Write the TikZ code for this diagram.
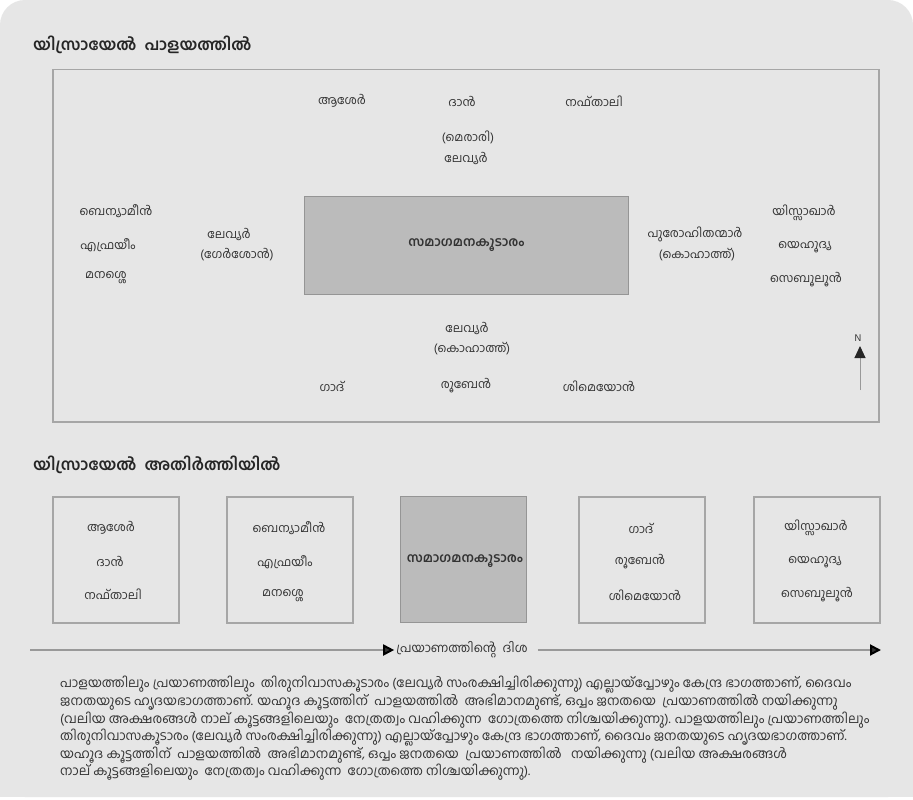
\documentclass[tikz,border=0pt]{standalone}
\usepackage{fontspec}
\newfontfamily\ml[Script=Malayalam]{Hind Kochi}
\usetikzlibrary{arrows.meta}
\definecolor{bg}{HTML}{E6E6E6}
\definecolor{edge}{HTML}{A6A6A6}
\definecolor{tab}{HTML}{BBBBBB}
\definecolor{ink}{HTML}{333333}
\definecolor{arr}{HTML}{999999}
\tikzset{
  lbl/.style={font=\ml\fontsize{12}{14}\selectfont, text=ink, inner sep=0pt, align=center},
  ttl/.style={font=\ml\bfseries\fontsize{16}{18}\selectfont, text=black!85, inner sep=0pt, anchor=west},
  para/.style={font=\ml\fontsize{13}{15}\selectfont, text=ink, inner sep=0pt, anchor=west},
  frame/.style={draw=edge, line width=1.5pt, fill=bg},
  tabbox/.style={draw=edge!90!black, line width=1pt, fill=tab, font=\ml\bfseries\fontsize{13}{15}\selectfont, text=ink},
  grpbox/.style={draw=edge, line width=1.5pt, fill=bg, minimum width=126pt, minimum height=126pt, inner sep=0pt},
  tip/.style={-{Triangle[length=11pt,width=11pt,fill=ink,color=black]}},
}
\begin{document}
\begin{tikzpicture}[x=1pt,y=-1pt]
\useasboundingbox (0,0) rectangle (913,800);
\fill[white] (0,0) rectangle (913,800);
\fill[bg, rounded corners=25pt] (0,797) -- (0,0) -- (913,0) -- (913,797) -- cycle;
\fill[bg] (0,700) rectangle (913,797);

% ---- camp ----
\node[ttl] (t1) at (33,45) {യിസ്രായേൽ~~പാളയത്തിൽ};
\node[frame, minimum width=826pt, minimum height=352pt, anchor=north west] (camp) at (52,69) {};
\node[tabbox, minimum width=324pt, minimum height=98pt, anchor=north west] (tab) at (304,196) {സമാഗമനകൂടാരം};

\node[lbl] (asher) at (342,101) {ആശേർ};
\node[lbl] (dan) at (462,101) {ദാൻ};
\node[lbl] (naph) at (594,101) {നഫ്താലി};
\node[lbl] (merari) at (468,137) {(മെരാരി)};
\node[lbl] (levn) at (466,158) {ലേവ്യർ};

\node[lbl] (benj) at (116,211) {ബെന്യാമീൻ};
\node[lbl] (ephr) at (108,245) {എഫ്രയീം};
\node[lbl] (mana) at (106,278) {മനശ്ശെ};
\node[lbl] (levw) at (229,234) {ലേവ്യർ};
\node[lbl] (gersh) at (237,255) {(ഗേർശോൻ)};

\node[lbl] (priest) at (695,234) {പുരോഹിതന്മാർ};
\node[lbl] (koh1) at (697,255) {(കൊഹാത്ത്)};
\node[lbl] (issa) at (804,213) {യിസ്സാഖാർ};
\node[lbl] (jud) at (805,247) {യെഹൂദ്യ};
\node[lbl] (zeb) at (806,280) {സെബൂലൂൻ};

\node[lbl] (levs) at (467,328) {ലേവ്യർ};
\node[lbl] (koh2) at (472,349) {(കൊഹാത്ത്)};
\node[lbl] (gad) at (332,386) {ഗാദ്};
\node[lbl] (reub) at (466,386) {രൂബേൻ};
\node[lbl] (sim) at (599,386) {ശിമെയോൻ};

\node[lbl, font=\ml\fontsize{10}{11}\selectfont] (north) at (858,338) {N};
\coordinate (nb) at (860,390);
\coordinate (nt) at (860,346);
\draw[arr, line width=1pt, -{Triangle[length=12pt,width=11pt,fill=black!85,color=black!85]}] (nb) -- (nt);

% ---- march ----
\node[ttl] (t2) at (33,465) {യിസ്രായേൽ~~അതിർത്തിയിൽ};
\node[grpbox, anchor=north west] (g1) at (52,496) {};
\node[grpbox, anchor=north west] (g2) at (226,496) {};
\node[grpbox, anchor=north west, fill=tab, draw=edge!90!black, line width=1pt] (g3) at (400,496) {};
\node[grpbox, anchor=north west] (g4) at (578,496) {};
\node[grpbox, anchor=north west] (g5) at (753,496) {};

\node[lbl] (b1a) at (111,528) {ആശേർ};
\node[lbl] (b1b) at (110,561) {ദാൻ};
\node[lbl] (b1c) at (113,594) {നഫ്താലി};
\node[lbl] (b2a) at (289,528) {ബെന്യാമീൻ};
\node[lbl] (b2b) at (285,562) {എഫ്രയീം};
\node[lbl] (b2c) at (283,596) {മനശ്ശെ};
\node[lbl, font=\ml\bfseries\fontsize{13}{15}\selectfont] (b3) at (465,561) {സമാഗമനകൂടാരം};
\node[lbl] (b4a) at (641,528) {ഗാദ്};
\node[lbl] (b4b) at (640,562) {രൂബേൻ};
\node[lbl] (b4c) at (645,595) {ശിമെയോൻ};
\node[lbl] (b5a) at (816,528) {യിസ്സാഖാർ};
\node[lbl] (b5b) at (815,562) {യെഹൂദ്യ};
\node[lbl] (b5c) at (817,595) {സെബൂലൂൻ};

% ---- direction ----
\coordinate (d0) at (30,650);
\coordinate (d1) at (881,650);
\node[lbl, font=\ml\fontsize{12.5}{14}\selectfont, inner xsep=2pt] (dir) at (462,650) {പ്രയാണത്തിന്റെ~~ദിശ};
\draw[arr, line width=2pt, tip] (d0) -- (dir.west);
\draw[arr, line width=2pt, tip] ([xshift=8pt]dir.east) -- (d1);

% ---- paragraph ----
\node[para] (p1) at (60,685) {പാളയത്തിലും പ്രയാണത്തിലും~~തിരുനിവാസകൂടാരം (ലേവ്യർ സംരക്ഷിച്ചിരിക്കുന്നു) എല്ലായ്പ്പോഴും കേന്ദ്ര ഭാഗത്താണ്, ദൈവം};
\node[para] (p2) at (60,702.5) {ജനതയുടെ ഹൃദയഭാഗത്താണ്. യഹൂദ കൂട്ടത്തിന്~~പാളയത്തിൽ~~അഭിമാനമുണ്ട്, ഒപ്പം ജനതയെ~~പ്രയാണത്തിൽ നയിക്കുന്നു};
\node[para] (p3) at (60,720) {(വലിയ അക്ഷരങ്ങൾ നാല് കൂട്ടങ്ങളിലെയും~~നേത്രത്വം വഹിക്കുന്ന~~ഗോത്രത്തെ നിശ്ചയിക്കുന്നു). പാളയത്തിലും പ്രയാണത്തിലും};
\node[para] (p4) at (60,737.5) {തിരുനിവാസകൂടാരം (ലേവ്യർ സംരക്ഷിച്ചിരിക്കുന്നു) എല്ലായ്പ്പോഴും കേന്ദ്ര ഭാഗത്താണ്, ദൈവം ജനതയുടെ ഹൃദയഭാഗത്താണ്.};
\node[para] (p5) at (60,755) {യഹൂദ കൂട്ടത്തിന്~~പാളയത്തിൽ~~അഭിമാനമുണ്ട്, ഒപ്പം ജനതയെ~~പ്രയാണത്തിൽ~~~നയിക്കുന്നു (വലിയ അക്ഷരങ്ങൾ};
\node[para] (p6) at (60,772.5) {നാല് കൂട്ടങ്ങളിലെയും~~നേത്രത്വം വഹിക്കുന്ന~~ഗോത്രത്തെ നിശ്ചയിക്കുന്നു).};
\end{tikzpicture}
\end{document}
